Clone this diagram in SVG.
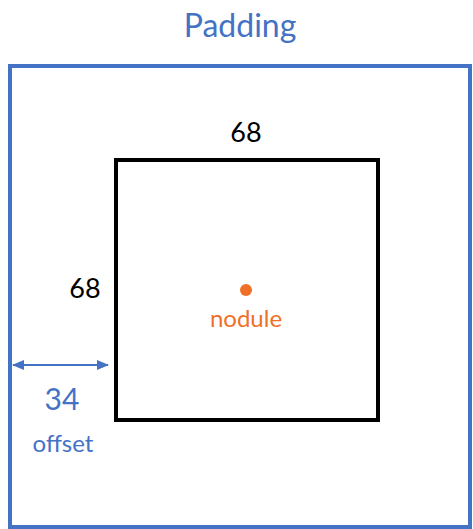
<svg xmlns="http://www.w3.org/2000/svg" width="473" height="529" viewBox="0 0 473 529">
<style>
.t{font-family:Lato,"Noto Sans","Liberation Sans",sans-serif;text-anchor:middle}
.blue{fill:#4472C4}
.blk{fill:#000}
.org{fill:#F07028}
</style>
<defs>
<marker id="ah" viewBox="0 0 12 10" refX="11" refY="5" markerWidth="12" markerHeight="10" orient="auto-start-reverse" markerUnits="userSpaceOnUse">
<path d="M0,0 L12,5 L0,10 z" fill="#4472C4"/>
</marker>
</defs>
<rect width="473" height="529" fill="#fff"/>
<g id="padding">
<rect x="10" y="66" width="460" height="461" fill="none" stroke="#4472C4" stroke-width="4"/>
<text class="t blue" x="240" y="37" font-size="32">Padding</text>
</g>
<g id="box">
<rect x="116" y="160" width="262" height="260" fill="none" stroke="#000" stroke-width="4"/>
<text class="t blk" x="246" y="142" font-size="27">68</text>
<text class="t blk" x="85" y="298" font-size="27">68</text>
</g>
<g id="nodule">
<circle cx="246" cy="290" r="6" fill="#F07028"/>
<text class="t org" x="246" y="327" font-size="24">nodule</text>
</g>
<g id="connectors">
<line x1="13" y1="365" x2="108" y2="365" stroke="#4472C4" stroke-width="2" marker-start="url(#ah)" marker-end="url(#ah)"/>
</g>
<g id="offset">
<text class="t blue" x="62" y="410" font-size="30">34</text>
<text class="t blue" x="63" y="452" font-size="24">offset</text>
</g>
</svg>
